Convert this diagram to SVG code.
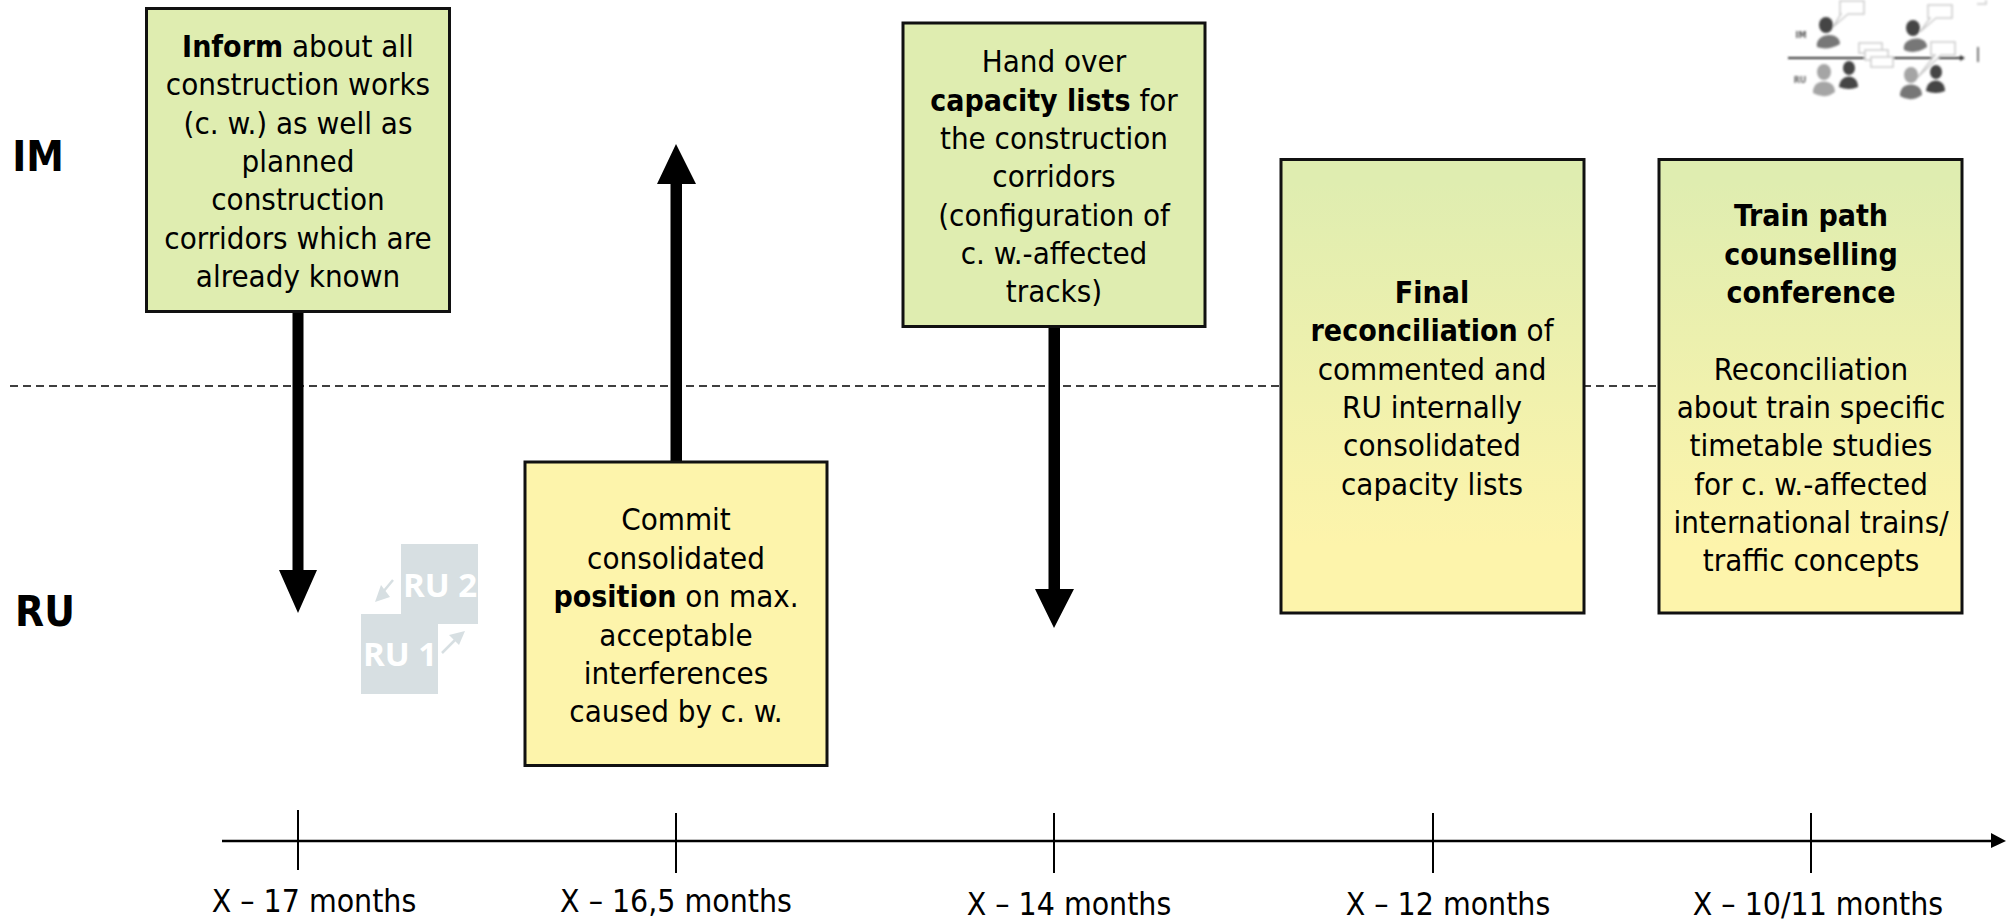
<svg xmlns="http://www.w3.org/2000/svg" width="2008" height="921" viewBox="0 0 2008 921">
<style>
text{font-family:"DejaVu Sans",sans-serif;font-stretch:condensed;fill:#000;text-anchor:middle}
.b{font-size:31px}
.bold{font-weight:bold;font-size:30px}
.box{stroke:#111;stroke-width:3}
.t{font-size:31.700px}
.side{font-size:42px;font-weight:bold}
.ru{font-family:"Open Sans",sans-serif;font-stretch:normal;font-size:33px;font-weight:bold;fill:#fff}
.ax{stroke:#000;stroke-width:2.700;fill:none}
.tick{stroke:#000;stroke-width:2;fill:none}
.p{fill:#777}
.d{fill:#444}
.l{fill:#a5a5a5}
.c{fill:#fff;stroke:#ccc;stroke-width:1.500}
.rua{stroke:#d7dfe2;stroke-width:2.500;fill:none}
.ruh{fill:#d7dfe2}
</style>
<defs>
<linearGradient id="g" x1="0" y1="0" x2="0" y2="1"><stop offset="0.05" stop-color="#dfedb0"/><stop offset="0.85" stop-color="#fdf4ab"/></linearGradient>
<filter id="bl"><feGaussianBlur stdDeviation="0.8"/></filter>
</defs>
<g id="connectors">
<line x1="10" y1="386" x2="1660" y2="386" stroke="#000" stroke-width="1.500" stroke-dasharray="8 5"/>
<path d="M292.500 311V570H279L298 613L317 570H303.500V311Z" fill="#000"/>
<path d="M670.500 462V184H657L676 144L696 184H682V462Z" fill="#000"/>
<path d="M1048.500 327V589H1035L1054 628L1074 589H1060V327Z" fill="#000"/>
<line class="ax" x1="222" y1="841" x2="1995" y2="841"/>
<path d="M1991 833L2006 841L1991 848Z" fill="#000"/>
<line class="tick" x1="298" y1="810" x2="298" y2="870"/>
<line class="tick" x1="676" y1="813" x2="676" y2="873"/>
<line class="tick" x1="1054" y1="813" x2="1054" y2="873"/>
<line class="tick" x1="1433" y1="813" x2="1433" y2="873"/>
<line class="tick" x1="1811" y1="813" x2="1811" y2="873"/>
</g>
<g id="side-labels">
<text class="side" x="38" y="171">IM</text>
<text class="side" x="45" y="626">RU</text>
</g>
<g id="ru-badge">
<path d="M401 544H478V624H438V694H361V614H401Z" fill="#d7dfe2"/>
<text class="ru" x="440" y="597">RU 2</text>
<text class="ru" x="400" y="666">RU 1</text>
<line class="rua" x1="393" y1="580" x2="383" y2="592"/>
<path class="ruh" d="M375 602L381 585L390 597Z"/>
<line class="rua" x1="442" y1="653" x2="455" y2="640"/>
<path class="ruh" d="M465 631L449 635L459 645Z"/>
</g>
<g id="node-1">
<rect class="box" x="146.500" y="8.500" width="303" height="303" fill="#dfedb0"/>
<text class="b"><tspan x="298" y="57"><tspan class="bold">Inform</tspan> about all</tspan><tspan x="298" y="95">construction works</tspan><tspan x="298" y="134">(c. w.) as well as</tspan><tspan x="298" y="172">planned</tspan><tspan x="298" y="210">construction</tspan><tspan x="298" y="249">corridors which are</tspan><tspan x="298" y="287">already known</tspan></text>
</g>
<g id="node-2">
<rect class="box" x="525" y="462" width="302" height="303.500" fill="#fdf4ab"/>
<text class="b"><tspan x="676" y="530">Commit</tspan><tspan x="676" y="569">consolidated</tspan><tspan x="676" y="607"><tspan class="bold">position</tspan> on max.</tspan><tspan x="676" y="646">acceptable</tspan><tspan x="676" y="684">interferences</tspan><tspan x="676" y="722">caused by c. w.</tspan></text>
</g>
<g id="node-3">
<rect class="box" x="903" y="23" width="302" height="303.500" fill="#dfedb0"/>
<text class="b"><tspan x="1054" y="72">Hand over</tspan><tspan x="1054" y="111"><tspan class="bold">capacity lists</tspan> for</tspan><tspan x="1054" y="149">the construction</tspan><tspan x="1054" y="187">corridors</tspan><tspan x="1054" y="226">(configuration of</tspan><tspan x="1054" y="264">c. w.-affected</tspan><tspan x="1054" y="302">tracks)</tspan></text>
</g>
<g id="node-4">
<rect class="box" x="1281" y="159.500" width="303" height="453.500" fill="url(#g)"/>
<text class="b"><tspan class="bold" x="1432" y="303">Final</tspan><tspan x="1432" y="341"><tspan class="bold">reconciliation</tspan> of</tspan><tspan x="1432" y="380">commented and</tspan><tspan x="1432" y="418">RU internally</tspan><tspan x="1432" y="456">consolidated</tspan><tspan x="1432" y="495">capacity lists</tspan></text>
</g>
<g id="node-5">
<rect class="box" x="1659" y="159.500" width="303" height="453.500" fill="url(#g)"/>
<text class="b"><tspan class="bold" x="1811" y="226">Train path</tspan><tspan class="bold" x="1811" y="265">counselling</tspan><tspan class="bold" x="1811" y="303">conference</tspan><tspan x="1811" y="380">Reconciliation</tspan><tspan x="1811" y="418">about train specific</tspan><tspan x="1811" y="456">timetable studies</tspan><tspan x="1811" y="495">for c. w.-affected</tspan><tspan x="1811" y="533">international trains/</tspan><tspan x="1811" y="571">traffic concepts</tspan></text>
</g>
<g id="axis-labels">
<text class="t" x="314" y="912">X – 17 months</text>
<text class="t" x="676" y="912">X – 16,5 months</text>
<text class="t" x="1069" y="915">X – 14 months</text>
<text class="t" x="1448" y="915">X – 12 months</text>
<text class="t" x="1818" y="915">X – 10/11 months</text>
</g>
<g id="icon" filter="url(#bl)">
<line x1="1788" y1="58" x2="1962" y2="58" stroke="#333" stroke-width="1.800"/>
<path d="M1960 55L1965 58L1960 61Z" fill="#333"/>
<text x="1801" y="38" style="font-size:8px;font-weight:bold;fill:#555;font-stretch:normal">IM</text>
<text x="1800" y="83" style="font-size:8px;font-weight:bold;fill:#666;font-stretch:normal">RU</text>
<path class="c" d="M1840 1H1864V14H1848L1833 27L1841 14H1840Z"/>
<path class="c" d="M1928 5H1952V18H1936L1920 32L1930 18H1928Z"/>
<path class="c" d="M1931 42H1955V55H1941L1917 78L1935 55H1931Z"/>
<rect class="c" x="1859" y="43" width="23" height="10"/>
<rect class="c" x="1865" y="50" width="23" height="10"/>
<rect class="c" x="1871" y="57" width="22" height="10"/>
<ellipse cx="1826" cy="25" rx="7" ry="8" fill="#444"/><path class="p" d="M1817 47C1814 33 1840 30 1840 44Q1828 51 1817 47Z"/>
<ellipse cx="1913" cy="28" rx="7" ry="8" fill="#444"/><path class="p" d="M1904 50C1901 37 1927 34 1927 47Q1915 55 1904 50Z"/>
<ellipse cx="1824" cy="72" rx="7" ry="8" class="l"/><path class="l" d="M1813 93C1812 78 1835 78 1835 92Q1825 100 1813 93Z"/>
<ellipse cx="1911" cy="75" rx="7" ry="8" class="l"/><path class="p" d="M1900 96C1899 81 1922 81 1922 95Q1911 103 1900 96Z"/>
<ellipse cx="1849" cy="68" rx="6" ry="7" class="d"/><path class="d" d="M1839 87C1840 73 1858 73 1858 87Q1849 91 1839 87Z"/>
<ellipse cx="1936" cy="72" rx="6" ry="7" class="d"/><path class="d" d="M1926 91C1927 77 1945 77 1945 91Q1936 95 1926 91Z"/>
<rect x="1977" y="47" width="2" height="15" fill="#777"/>
<path d="M1977 4H1986V0" fill="none" stroke="#ccc" stroke-width="1.500"/>
</g>
</svg>
